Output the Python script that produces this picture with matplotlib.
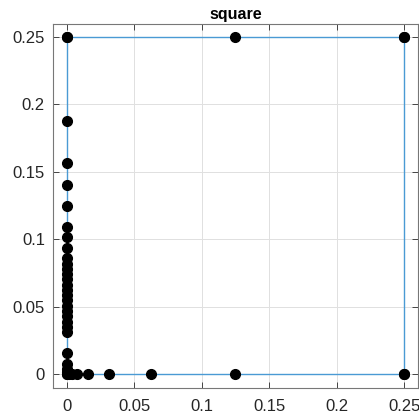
import matplotlib
matplotlib.use("Agg")
import matplotlib.pyplot as plt
import numpy as np

plt.rcParams['font.family'] = ['Liberation Sans', 'DejaVu Sans']

title = "square"

# square outline (closed path)
square_x = [0, 0.25, 0.25, 0, 0]
square_y = [0, 0, 0.25, 0.25, 0]

# sample points on the left edge (x = 0)
left_y = [0.25, 0.1875, 0.15625, 0.140625, 0.125, 0.109375, 0.1015625,
          0.09375, 0.0859375, 0.08203125, 0.078125, 0.07421875, 0.0703125,
          0.06640625, 0.0625, 0.05859375, 0.0546875, 0.05078125, 0.046875,
          0.04296875, 0.0390625, 0.03515625, 0.03125, 0.015625, 0.0078125,
          0.00390625, 0.001953125, 0.0]
# sample points on the bottom edge (y = 0)
bottom_x = [0.0, 0.001953125, 0.00390625, 0.0078125, 0.015625, 0.03125,
            0.0625, 0.125, 0.25]
# sample points on the top edge (y = 0.25)
top_x = [0.0, 0.125, 0.25]
# sample points on the right edge (x = 0.25)
right_y = [0.25, 0.0]

ticks = [0, 0.05, 0.1, 0.15, 0.2, 0.25]
tick_labels = ["0", "0.05", "0.1", "0.15", "0.2", "0.25"]

fig = plt.figure(figsize=(4.19, 4.16), dpi=100)
ax = fig.add_axes([0.127, 0.068, 0.870, 0.8755])

ax.plot(square_x, square_y, color='#4a9ad4', lw=1.0, zorder=2)

px = [0.0] * len(left_y) + bottom_x + top_x + [0.25] * len(right_y)
py = left_y + [0.0] * len(bottom_x) + [0.25] * len(top_x) + right_y
ax.plot(px, py, linestyle='none', marker='o', markersize=7,
        color='black', zorder=3)

ax.set_xlim(-0.01, 0.26)
ax.set_ylim(-0.01, 0.26)
ax.set_xticks(ticks)
ax.set_xticklabels(tick_labels)
ax.set_yticks(ticks)
ax.set_yticklabels(tick_labels)
ax.grid(True, color='#e0e0e0', linewidth=0.7)
ax.set_axisbelow(True)
ax.tick_params(direction='in', length=4, width=0.7, colors='#444444',
               top=True, right=True, labelsize=12, labelcolor='#262626')
ax.tick_params(axis='x', pad=8)
ax.tick_params(axis='y', pad=6)
for s in ax.spines.values():
    s.set_color('#777777')
    s.set_linewidth(0.8)

ax.set_title(title, fontsize=11.5, fontweight='bold', pad=3)

fig.savefig("out.png", dpi=100)
